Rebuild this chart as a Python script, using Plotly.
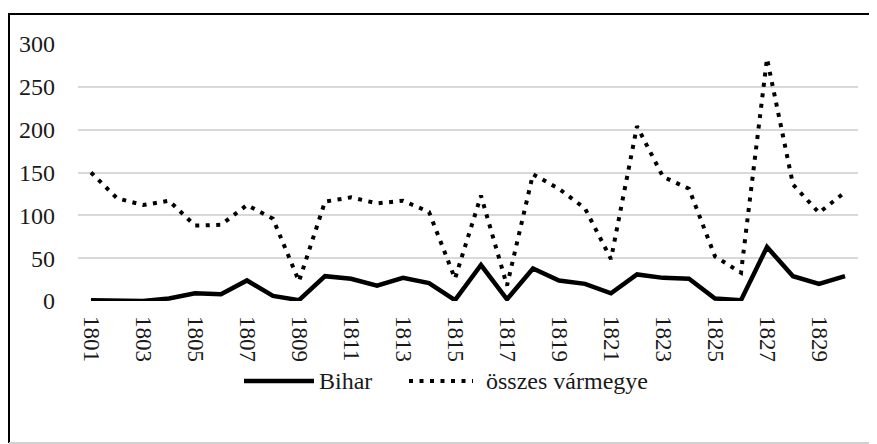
import plotly.graph_objects as go

years = list(range(1801, 1831))
bihar = [1, 0, 0, 3, 9, 8, 24, 6, 1, 29, 26, 18, 27, 21, 1, 42, 2, 38, 24, 20,
         9, 31, 27, 26, 3, 1, 63, 29, 20, 29]
osszes = [150, 120, 112, 117, 88, 89, 112, 96, 23, 116, 121, 114, 117, 104, 26,
          123, 18, 148, 131, 108, 49, 204, 145, 131, 52, 33, 283, 136, 103, 127]
tick_years = years[::2]
tick_labels = [str(y) for y in tick_years]
y_ticks = [0, 50, 100, 150, 200, 250, 300]
series_names = ["Bihar", "összes vármegye"]

FONT = "Liberation Serif"
TXT = "#1a1a1a"

OFF = 8  # page body margin
W, H = 877 - OFF, 444 - OFF
L, T = 78 - OFF, 44 - OFF
R = W - (858 - OFF)
B = H - (301 - OFF)
pw, ph = W - L - R, H - T - B

def px_x(sx):
    return (sx - OFF - L) / pw

def px_y(sy):
    return (H - B - (sy - OFF)) / ph

fig = go.Figure()
fig.add_trace(go.Scatter(x=years, y=bihar, mode="lines", name=series_names[0],
                         line=dict(color="black", width=4.5), showlegend=False))
fig.add_trace(go.Scatter(x=years, y=osszes, mode="lines", name=series_names[1],
                         line=dict(color="black", width=4, dash="4px,6.5px"),
                         showlegend=False))

shapes = [
    dict(type="line", xref="paper", yref="paper", x0=px_x(8), x1=px_x(880),
         y0=px_y(14), y1=px_y(14), line=dict(color="black", width=2)),
    dict(type="line", xref="paper", yref="paper", x0=px_x(9), x1=px_x(9),
         y0=px_y(14), y1=px_y(443), line=dict(color="black", width=2)),
    dict(type="line", xref="paper", yref="paper", x0=px_x(9), x1=px_x(880),
         y0=px_y(443), y1=px_y(443), line=dict(color="#d0d0d0", width=2)),
    dict(type="line", xref="paper", yref="paper", x0=px_x(244), x1=px_x(314),
         y0=px_y(381), y1=px_y(381), line=dict(color="black", width=4.5)),
    dict(type="line", xref="paper", yref="paper", x0=px_x(409), x1=px_x(473),
         y0=px_y(381), y1=px_y(381), line=dict(color="black", width=4, dash="4px,6.5px")),
]
annotations = [
    dict(xref="paper", yref="paper", x=px_x(317), y=px_y(381), text=series_names[0],
         showarrow=False, xanchor="left", yanchor="middle",
         font=dict(family=FONT, size=24, color=TXT)),
    dict(xref="paper", yref="paper", x=px_x(484), y=px_y(381), text=series_names[1],
         showarrow=False, xanchor="left", yanchor="middle",
         font=dict(family=FONT, size=24, color=TXT)),
]

fig.update_layout(
    width=W, height=H,
    margin=dict(l=L, r=R, t=T, b=B, pad=0),
    paper_bgcolor="white", plot_bgcolor="white",
    font=dict(family=FONT, size=23, color=TXT),
    shapes=shapes, annotations=annotations,
    showlegend=False,
)
fig.update_xaxes(range=[1800.5, 1830.5], tickmode="array", tickvals=tick_years,
                 ticktext=tick_labels, tickangle=90, showgrid=False,
                 zeroline=False, showline=False, ticks="", ticklabelstandoff=14,
                 tickfont=dict(family=FONT, size=23, color=TXT),
                 fixedrange=True)
fig.update_yaxes(range=[0, 300], tickmode="array", tickvals=y_ticks,
                 showgrid=True, gridcolor="#d9d9d9", gridwidth=1.5,
                 zeroline=False, showline=False, ticks="", ticklabelstandoff=22,
                 tickfont=dict(family=FONT, size=24, color=TXT),
                 fixedrange=True)

fig.write_html("out.html")
